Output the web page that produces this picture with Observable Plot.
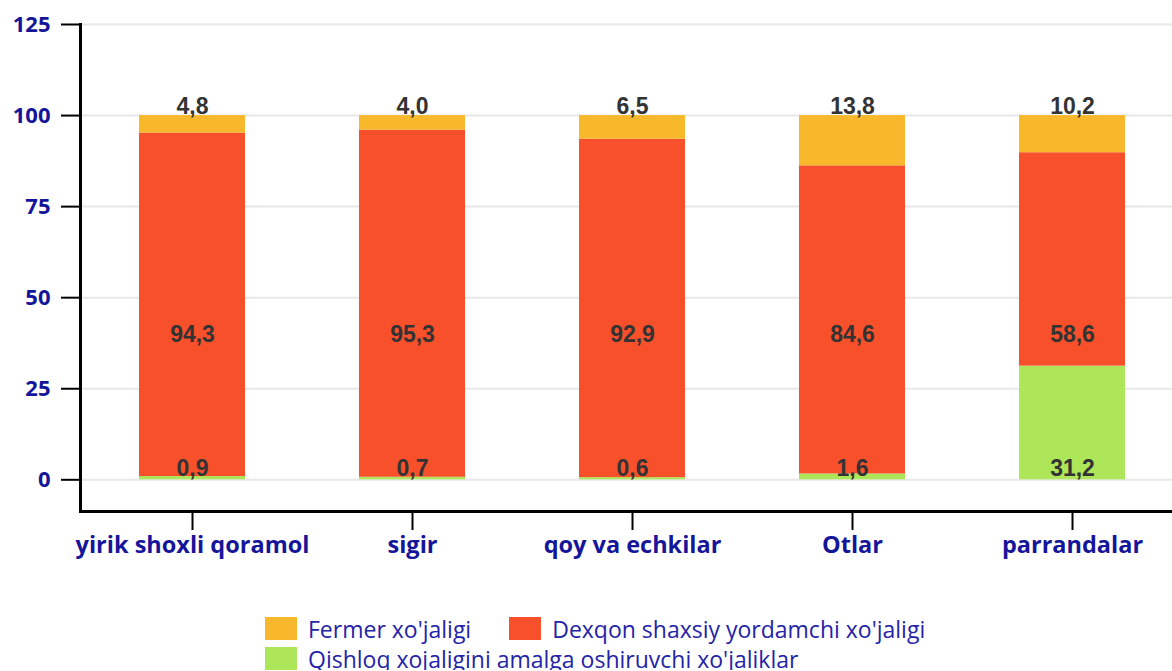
<!DOCTYPE html>
<html>
<head>
<meta charset="utf-8">
<script src="https://cdn.jsdelivr.net/npm/d3@7"></script>
<script src="https://cdn.jsdelivr.net/npm/@observablehq/plot@0.6"></script>
<style>
  html, body { margin: 0; padding: 0; background: #fff; }
  #chart svg { display: block; overflow: visible; }
  #legend {
    margin-left: 265px;
    width: 720px;
    margin-top: 17px;
    font-family: "Open Sans", "Noto Sans", sans-serif;
    font-size: 23px;
    color: #2424a8;
    display: flex;
    flex-wrap: wrap;
    row-gap: 7px;
  }
  .item { display: flex; align-items: center; height: 23px; margin-right: 38px; white-space: nowrap; }
  .sw { width: 32px; height: 23px; margin-right: 11px; display: inline-block; flex: none; }
</style>
</head>
<body>
<div id="chart"></div>
<div id="legend"></div>
<script>
const categories = ["yirik shoxli qoramol", "sigir", "qoy va echkilar", "Otlar", "parrandalar"];
const seriesNames = ["Qishloq xojaligini amalga oshiruvchi xo'jaliklar", "Dexqon shaxsiy yordamchi xo'jaligi", "Fermer xo'jaligi"];
const qishloq = [0.9, 0.7, 0.6, 1.6, 31.2];
const dexqon = [94.3, 95.3, 92.9, 84.6, 58.6];
const fermer = [4.8, 4.0, 6.5, 13.8, 10.2];
const yTicks = [0, 25, 50, 75, 100, 125];
const colors = ["#AEE65A", "#F7502B", "#F7B92B"];
const legendOrder = [2, 1, 0];

const seriesValues = [qishloq, dexqon, fermer];
const data = [];
seriesValues.forEach((vals, s) => vals.forEach((v, i) => data.push({cat: categories[i], series: seriesNames[s], value: v, s})));
const fmt = v => v.toFixed(1).replace(".", ",");
const totals = categories.map((c, i) => ({cat: c, total: qishloq[i] + dexqon[i] + fermer[i], label: fmt(fermer[i])}));
const mid = categories.map((c, i) => ({cat: c, label: fmt(dexqon[i])}));
const bot = categories.map((c, i) => ({cat: c, label: fmt(qishloq[i])}));

const labelFont = {fontFamily: "Liberation Sans, Arial, sans-serif", fontWeight: "bold", fontSize: 23, fill: "#333333"};

const plot = Plot.plot({
  width: 1172,
  height: 600,
  marginLeft: 80,
  marginRight: 0,
  marginTop: 24,
  marginBottom: 89,
  x: {type: "band", domain: categories, range: [82, 1182], paddingInner: 0.52, paddingOuter: 0.254, label: null},
  y: {domain: [-8.7, 125], label: null},
  color: {domain: seriesNames, range: colors},
  marks: [
    Plot.gridY(yTicks, {stroke: "#e8e8e8", strokeOpacity: 1, strokeWidth: 2}),
    Plot.barY(data, {x: "cat", y: "value", fill: "series", order: seriesNames}),
    Plot.text(totals, {x: "cat", y: "total", text: "label", lineAnchor: "bottom", dy: -2, ...labelFont}),
    Plot.text(mid, {x: "cat", y: 40, text: "label", lineAnchor: "middle", dy: 1, ...labelFont}),
    Plot.text(bot, {x: "cat", y: 0, text: "label", lineAnchor: "bottom", dy: -4, ...labelFont}),
    Plot.axisY({ticks: yTicks, tickSize: 19, tickPadding: 11, strokeWidth: 2, stroke: "#000",
      fontSize: 22, fontWeight: "bold", fontFamily: "Open Sans, sans-serif", fill: "#15159a", label: null}),
    Plot.axisX({tickSize: 19, tickPadding: 6, strokeWidth: 2, stroke: "#000",
      fontSize: 23.5, fontWeight: "bold", fontFamily: "Open Sans, sans-serif", fill: "#15159a", label: null}),
    Plot.frame({anchor: "left", stroke: "#000", strokeWidth: 3}),
    Plot.frame({anchor: "bottom", stroke: "#000", strokeWidth: 3})
  ]
});
document.getElementById("chart").appendChild(plot);

const legend = document.getElementById("legend");
legendOrder.forEach(s => {
  const item = document.createElement("span");
  item.className = "item";
  const sw = document.createElement("span");
  sw.className = "sw";
  sw.style.background = colors[s];
  item.appendChild(sw);
  item.appendChild(document.createTextNode(seriesNames[s]));
  legend.appendChild(item);
});
</script>
</body>
</html>
